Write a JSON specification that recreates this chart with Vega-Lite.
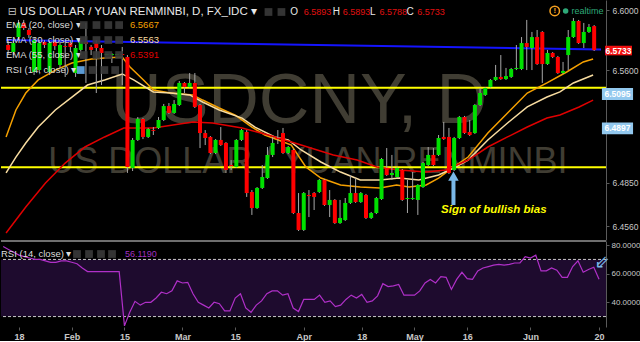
{
  "$schema": "https://vega.github.io/schema/vega-lite/v6.json",
  "background": "#000000",
  "padding": 0,
  "spacing": 0,
  "config": {
    "view": {"stroke": null},
    "axis": {"grid": false, "labelColor": "#c8c8c8", "labelFont": "Liberation Sans", "labelFontSize": 8.5, "domainColor": "#5a5a5a", "tickColor": "#5a5a5a", "tickSize": 3},
    "text": {"font": "Liberation Sans"}
  },
  "datasets": {
    "candles": [
      {"i":-3,"o":6.5767,"h":6.5800,"l":6.5700,"c":6.5734},
      {"i":-2,"o":6.5720,"h":6.5800,"l":6.5700,"c":6.5780},
      {"i":-1,"o":6.5820,"h":6.5934,"l":6.5800,"c":6.5914},
      {"i":0,"o":6.5914,"h":6.5934,"l":6.5867,"c":6.5880},
      {"i":1,"o":6.5867,"h":6.5880,"l":6.5814,"c":6.5834},
      {"i":2,"o":6.5587,"h":6.5814,"l":6.5567,"c":6.5800},
      {"i":3,"o":6.5600,"h":6.5800,"l":6.5587,"c":6.5780},
      {"i":4,"o":6.5787,"h":6.5800,"l":6.5747,"c":6.5767},
      {"i":5,"o":6.5587,"h":6.5794,"l":6.5567,"c":6.5780},
      {"i":6,"o":6.5787,"h":6.5800,"l":6.5734,"c":6.5760},
      {"i":7,"o":6.5634,"h":6.5787,"l":6.5614,"c":6.5767},
      {"i":8,"o":6.5760,"h":6.5787,"l":6.5554,"c":6.5754},
      {"i":9,"o":6.5780,"h":6.5800,"l":6.5720,"c":6.5754},
      {"i":10,"o":6.5580,"h":6.5767,"l":6.5554,"c":6.5747},
      {"i":11,"o":6.5734,"h":6.5800,"l":6.5700,"c":6.5787},
      {"i":12,"o":6.5787,"h":6.5914,"l":6.5514,"c":6.5774},
      {"i":13,"o":6.5754,"h":6.5767,"l":6.5700,"c":6.5734},
      {"i":14,"o":6.5780,"h":6.5800,"l":6.5447,"c":6.5747},
      {"i":15,"o":6.5747,"h":6.5767,"l":6.5500,"c":6.5714},
      {"i":16,"o":6.5700,"h":6.5707,"l":6.5700,"c":6.5707},
      {"i":17,"o":6.5700,"h":6.5714,"l":6.5647,"c":6.5707},
      {"i":18,"o":6.5700,"h":6.5707,"l":6.5700,"c":6.5707},
      {"i":19,"o":6.5707,"h":6.5754,"l":6.5500,"c":6.5700},
      {"i":20,"o":6.5687,"h":6.5700,"l":6.4914,"c":6.4954},
      {"i":21,"o":6.4947,"h":6.5147,"l":6.4927,"c":6.5134},
      {"i":22,"o":6.5134,"h":6.5287,"l":6.5127,"c":6.5274},
      {"i":23,"o":6.5274,"h":6.5280,"l":6.5140,"c":6.5154},
      {"i":24,"o":6.5154,"h":6.5214,"l":6.5147,"c":6.5207},
      {"i":25,"o":6.5200,"h":6.5220,"l":6.5167,"c":6.5194},
      {"i":26,"o":6.5214,"h":6.5287,"l":6.5207,"c":6.5267},
      {"i":27,"o":6.5267,"h":6.5374,"l":6.5260,"c":6.5360},
      {"i":28,"o":6.5360,"h":6.5380,"l":6.5307,"c":6.5314},
      {"i":29,"o":6.5314,"h":6.5400,"l":6.5307,"c":6.5374},
      {"i":30,"o":6.5367,"h":6.5527,"l":6.5360,"c":6.5514},
      {"i":31,"o":6.5514,"h":6.5520,"l":6.5447,"c":6.5487},
      {"i":32,"o":6.5487,"h":6.5580,"l":6.5480,"c":6.5514},
      {"i":33,"o":6.5514,"h":6.5580,"l":6.5347,"c":6.5354},
      {"i":34,"o":6.5367,"h":6.5374,"l":6.5080,"c":6.5180},
      {"i":35,"o":6.5180,"h":6.5200,"l":6.5100,"c":6.5147},
      {"i":36,"o":6.5154,"h":6.5160,"l":6.5040,"c":6.5047},
      {"i":37,"o":6.5047,"h":6.5140,"l":6.5040,"c":6.5134},
      {"i":38,"o":6.5134,"h":6.5220,"l":6.5094,"c":6.5100},
      {"i":39,"o":6.5114,"h":6.5120,"l":6.4914,"c":6.4934},
      {"i":40,"o":6.4967,"h":6.5000,"l":6.4934,"c":6.4960},
      {"i":41,"o":6.4954,"h":6.5140,"l":6.4947,"c":6.5134},
      {"i":42,"o":6.5134,"h":6.5207,"l":6.5127,"c":6.5200},
      {"i":43,"o":6.5187,"h":6.5200,"l":6.4754,"c":6.4780},
      {"i":44,"o":6.4787,"h":6.4800,"l":6.4634,"c":6.4680},
      {"i":45,"o":6.4680,"h":6.4820,"l":6.4674,"c":6.4814},
      {"i":46,"o":6.4814,"h":6.4967,"l":6.4807,"c":6.4887},
      {"i":47,"o":6.4880,"h":6.5087,"l":6.4874,"c":6.5034},
      {"i":48,"o":6.5034,"h":6.5154,"l":6.5020,"c":6.5114},
      {"i":49,"o":6.5147,"h":6.5200,"l":6.5107,"c":6.5140},
      {"i":50,"o":6.5180,"h":6.5214,"l":6.5040,"c":6.5047},
      {"i":51,"o":6.5047,"h":6.5094,"l":6.5040,"c":6.5087},
      {"i":52,"o":6.5067,"h":6.5074,"l":6.4640,"c":6.4647},
      {"i":53,"o":6.4647,"h":6.4780,"l":6.4527,"c":6.4534},
      {"i":54,"o":6.4534,"h":6.4787,"l":6.4527,"c":6.4780},
      {"i":55,"o":6.4767,"h":6.4800,"l":6.4620,"c":6.4760},
      {"i":56,"o":6.4780,"h":6.4787,"l":6.4667,"c":6.4754},
      {"i":57,"o":6.4787,"h":6.4874,"l":6.4780,"c":6.4867},
      {"i":58,"o":6.4867,"h":6.4874,"l":6.4694,"c":6.4700},
      {"i":59,"o":6.4700,"h":6.4800,"l":6.4620,"c":6.4734},
      {"i":60,"o":6.4734,"h":6.4740,"l":6.4574,"c":6.4580},
      {"i":61,"o":6.4580,"h":6.4734,"l":6.4574,"c":6.4614},
      {"i":62,"o":6.4600,"h":6.4747,"l":6.4594,"c":6.4714},
      {"i":63,"o":6.4714,"h":6.4900,"l":6.4707,"c":6.4780},
      {"i":64,"o":6.4780,"h":6.4880,"l":6.4714,"c":6.4720},
      {"i":65,"o":6.4720,"h":6.4787,"l":6.4714,"c":6.4780},
      {"i":66,"o":6.4767,"h":6.4774,"l":6.4607,"c":6.4614},
      {"i":67,"o":6.4614,"h":6.4654,"l":6.4607,"c":6.4647},
      {"i":68,"o":6.4647,"h":6.4754,"l":6.4640,"c":6.4747},
      {"i":69,"o":6.4740,"h":6.5014,"l":6.4734,"c":6.5007},
      {"i":70,"o":6.4947,"h":6.5080,"l":6.4894,"c":6.4900},
      {"i":71,"o":6.4900,"h":6.5034,"l":6.4867,"c":6.4914},
      {"i":72,"o":6.4887,"h":6.4954,"l":6.4880,"c":6.4947},
      {"i":73,"o":6.4934,"h":6.4940,"l":6.4727,"c":6.4734},
      {"i":74,"o":6.4740,"h":6.4867,"l":6.4647,"c":6.4747},
      {"i":75,"o":6.4740,"h":6.4920,"l":6.4734,"c":6.4747},
      {"i":76,"o":6.4734,"h":6.4840,"l":6.4634,"c":6.4834},
      {"i":77,"o":6.4820,"h":6.4987,"l":6.4814,"c":6.4980},
      {"i":78,"o":6.4967,"h":6.5087,"l":6.4960,"c":6.5034},
      {"i":79,"o":6.5034,"h":6.5080,"l":6.4960,"c":6.4967},
      {"i":80,"o":6.5034,"h":6.5167,"l":6.5027,"c":6.5147},
      {"i":81,"o":6.5154,"h":6.5254,"l":6.5134,"c":6.5140},
      {"i":82,"o":6.5154,"h":6.5214,"l":6.4907,"c":6.4914},
      {"i":83,"o":6.4934,"h":6.5154,"l":6.4927,"c":6.5147},
      {"i":84,"o":6.5147,"h":6.5294,"l":6.5140,"c":6.5287},
      {"i":85,"o":6.5287,"h":6.5294,"l":6.5174,"c":6.5180},
      {"i":86,"o":6.5187,"h":6.5267,"l":6.5160,"c":6.5167},
      {"i":87,"o":6.5180,"h":6.5374,"l":6.5174,"c":6.5367},
      {"i":88,"o":6.5367,"h":6.5480,"l":6.5360,"c":6.5447},
      {"i":89,"o":6.5434,"h":6.5487,"l":6.5427,"c":6.5480},
      {"i":90,"o":6.5487,"h":6.5540,"l":6.5480,"c":6.5534},
      {"i":91,"o":6.5534,"h":6.5634,"l":6.5527,"c":6.5554},
      {"i":92,"o":6.5554,"h":6.5700,"l":6.5534,"c":6.5540},
      {"i":93,"o":6.5540,"h":6.5614,"l":6.5534,"c":6.5560},
      {"i":94,"o":6.5554,"h":6.5614,"l":6.5547,"c":6.5607},
      {"i":95,"o":6.5607,"h":6.5767,"l":6.5600,"c":6.5614},
      {"i":96,"o":6.5607,"h":6.5820,"l":6.5600,"c":6.5780},
      {"i":97,"o":6.5780,"h":6.5934,"l":6.5600,"c":6.5754},
      {"i":98,"o":6.5747,"h":6.5854,"l":6.5600,"c":6.5820},
      {"i":99,"o":6.5820,"h":6.5867,"l":6.5634,"c":6.5640},
      {"i":100,"o":6.5854,"h":6.5860,"l":6.5514,"c":6.5640},
      {"i":101,"o":6.5640,"h":6.5734,"l":6.5634,"c":6.5714},
      {"i":102,"o":6.5714,"h":6.5720,"l":6.5680,"c":6.5687},
      {"i":103,"o":6.5687,"h":6.5694,"l":6.5574,"c":6.5580},
      {"i":104,"o":6.5580,"h":6.5654,"l":6.5574,"c":6.5594},
      {"i":105,"o":6.5700,"h":6.5867,"l":6.5600,"c":6.5820},
      {"i":106,"o":6.5820,"h":6.5947,"l":6.5814,"c":6.5927},
      {"i":107,"o":6.5927,"h":6.5934,"l":6.5774,"c":6.5780},
      {"i":108,"o":6.5780,"h":6.5914,"l":6.5747,"c":6.5854},
      {"i":109,"o":6.5854,"h":6.5907,"l":6.5847,"c":6.5887},
      {"i":110,"o":6.5893,"h":6.5900,"l":6.5727,"c":6.5733}
    ],
    "ema": [
      {"s":"EMA20","i":-3.4,"p":6.5154},{"s":"EMA20","i":-1.5,"p":6.5334},{"s":"EMA20","i":0.4,"p":6.5447},{"s":"EMA20","i":2.8,"p":6.5534},{"s":"EMA20","i":6.1,"p":6.5600},{"s":"EMA20","i":9.3,"p":6.5647},{"s":"EMA20","i":13.1,"p":6.5674},{"s":"EMA20","i":15.6,"p":6.5680},{"s":"EMA20","i":19,"p":6.5687},{"s":"EMA20","i":20.5,"p":6.5620},{"s":"EMA20","i":23.1,"p":6.5534},{"s":"EMA20","i":25,"p":6.5467},{"s":"EMA20","i":28.3,"p":6.5447},{"s":"EMA20","i":32.6,"p":6.5434},{"s":"EMA20","i":34.5,"p":6.5400},{"s":"EMA20","i":37.7,"p":6.5347},{"s":"EMA20","i":40.8,"p":6.5300},{"s":"EMA20","i":44,"p":6.5220},{"s":"EMA20","i":46.5,"p":6.5167},{"s":"EMA20","i":49.1,"p":6.5134},{"s":"EMA20","i":51.6,"p":6.5100},{"s":"EMA20","i":54.4,"p":6.4954},{"s":"EMA20","i":57.3,"p":6.4880},{"s":"EMA20","i":61.1,"p":6.4834},{"s":"EMA20","i":64.9,"p":6.4820},{"s":"EMA20","i":68.7,"p":6.4814},{"s":"EMA20","i":71.9,"p":6.4834},{"s":"EMA20","i":74.3,"p":6.4820},{"s":"EMA20","i":77.6,"p":6.4834},{"s":"EMA20","i":80,"p":6.4880},{"s":"EMA20","i":82.9,"p":6.4954},{"s":"EMA20","i":85.7,"p":6.5020},{"s":"EMA20","i":89.5,"p":6.5180},{"s":"EMA20","i":93.3,"p":6.5314},{"s":"EMA20","i":97.1,"p":6.5447},{"s":"EMA20","i":100.9,"p":6.5514},{"s":"EMA20","i":104.7,"p":6.5587},{"s":"EMA20","i":107.9,"p":6.5654},{"s":"EMA20","i":109.8,"p":6.5674},
      {"s":"EMA30","i":-3.4,"p":6.4914},{"s":"EMA30","i":-1.5,"p":6.5020},{"s":"EMA30","i":0.4,"p":6.5114},{"s":"EMA30","i":2.8,"p":6.5220},{"s":"EMA30","i":6.1,"p":6.5334},{"s":"EMA30","i":9.3,"p":6.5420},{"s":"EMA30","i":12.3,"p":6.5500},{"s":"EMA30","i":15.6,"p":6.5534},{"s":"EMA30","i":19,"p":6.5574},{"s":"EMA30","i":21.2,"p":6.5534},{"s":"EMA30","i":25,"p":6.5454},{"s":"EMA30","i":28.3,"p":6.5447},{"s":"EMA30","i":32,"p":6.5434},{"s":"EMA30","i":34.5,"p":6.5387},{"s":"EMA30","i":37.7,"p":6.5334},{"s":"EMA30","i":42.1,"p":6.5280},{"s":"EMA30","i":44.6,"p":6.5220},{"s":"EMA30","i":48.4,"p":6.5154},{"s":"EMA30","i":51,"p":6.5134},{"s":"EMA30","i":53.5,"p":6.5067},{"s":"EMA30","i":57.3,"p":6.4987},{"s":"EMA30","i":61.1,"p":6.4920},{"s":"EMA30","i":64.9,"p":6.4867},{"s":"EMA30","i":68.7,"p":6.4867},{"s":"EMA30","i":72.4,"p":6.4880},{"s":"EMA30","i":76.2,"p":6.4867},{"s":"EMA30","i":80,"p":6.4900},{"s":"EMA30","i":82.9,"p":6.4947},{"s":"EMA30","i":85.7,"p":6.5000},{"s":"EMA30","i":89.5,"p":6.5134},{"s":"EMA30","i":93.3,"p":6.5247},{"s":"EMA30","i":97.1,"p":6.5354},{"s":"EMA30","i":100.9,"p":6.5420},{"s":"EMA30","i":103.4,"p":6.5454},{"s":"EMA30","i":106,"p":6.5514},{"s":"EMA30","i":109.8,"p":6.5567},
      {"s":"EMA55","i":-3.4,"p":6.4514},{"s":"EMA55","i":0.4,"p":6.4687},{"s":"EMA55","i":4.2,"p":6.4847},{"s":"EMA55","i":8,"p":6.4980},{"s":"EMA55","i":11.8,"p":6.5087},{"s":"EMA55","i":15.6,"p":6.5154},{"s":"EMA55","i":19.3,"p":6.5214},{"s":"EMA55","i":25,"p":6.5214},{"s":"EMA55","i":32.6,"p":6.5254},{"s":"EMA55","i":36.4,"p":6.5247},{"s":"EMA55","i":42.1,"p":6.5214},{"s":"EMA55","i":47.2,"p":6.5167},{"s":"EMA55","i":53.5,"p":6.5100},{"s":"EMA55","i":59.7,"p":6.5034},{"s":"EMA55","i":64.3,"p":6.5000},{"s":"EMA55","i":68.1,"p":6.4954},{"s":"EMA55","i":72.4,"p":6.4934},{"s":"EMA55","i":77.6,"p":6.4920},{"s":"EMA55","i":81.4,"p":6.4934},{"s":"EMA55","i":85.7,"p":6.5000},{"s":"EMA55","i":89.5,"p":6.5087},{"s":"EMA55","i":93.3,"p":6.5154},{"s":"EMA55","i":97.1,"p":6.5220},{"s":"EMA55","i":100.9,"p":6.5280},{"s":"EMA55","i":103.4,"p":6.5300},{"s":"EMA55","i":107.1,"p":6.5354},{"s":"EMA55","i":109.8,"p":6.5400}
    ],
    "rsi": [
      {"i":-3,"r":79},{"i":-2,"r":77},{"i":-1,"r":75},{"i":0,"r":73},{"i":1,"r":72},{"i":2,"r":71},{"i":3,"r":70},{"i":4,"r":70},{"i":5,"r":69},{"i":6,"r":68},{"i":7,"r":68},{"i":8,"r":69},{"i":9,"r":69},{"i":10,"r":68},{"i":11,"r":67},{"i":12,"r":64},{"i":13,"r":61.5},{"i":14,"r":61.5},{"i":15,"r":61.5},{"i":16,"r":61.5},{"i":17,"r":61.5},{"i":18,"r":61.5},{"i":19,"r":61.5},
      {"i":20,"r":23.5},{"i":21,"r":33},{"i":22,"r":40.7},{"i":23,"r":38},{"i":24,"r":40},{"i":25,"r":40},{"i":26,"r":43},{"i":27,"r":47},{"i":28,"r":46},{"i":29,"r":48},{"i":30,"r":55},{"i":31,"r":53.5},{"i":32,"r":54},{"i":33,"r":46},{"i":34,"r":40},{"i":35,"r":38},{"i":36,"r":36},{"i":37,"r":40},{"i":38,"r":39},{"i":39,"r":34},{"i":40,"r":34},
      {"i":41,"r":43},{"i":42,"r":46},{"i":43,"r":36},{"i":44,"r":33},{"i":45,"r":38},{"i":46,"r":41},{"i":47,"r":46},{"i":48,"r":48},{"i":49,"r":48},{"i":50,"r":45},{"i":51,"r":46},{"i":52,"r":36},{"i":53,"r":33.5},{"i":54,"r":42},{"i":55,"r":42},{"i":56,"r":42},{"i":57,"r":45},{"i":58,"r":40},{"i":59,"r":41},{"i":60,"r":37},
      {"i":61,"r":38},{"i":62,"r":42},{"i":63,"r":45},{"i":64,"r":43},{"i":65,"r":45.5},{"i":66,"r":40},{"i":67,"r":41},{"i":68,"r":44.5},{"i":69,"r":53},{"i":70,"r":51},{"i":71,"r":51.5},{"i":72,"r":52.5},{"i":73,"r":45},{"i":74,"r":45},{"i":75,"r":45},{"i":76,"r":48},{"i":77,"r":53.5},{"i":78,"r":56},{"i":79,"r":53.5},{"i":80,"r":58},
      {"i":81,"r":57.5},{"i":82,"r":49},{"i":83,"r":56},{"i":84,"r":61},{"i":85,"r":56.5},{"i":86,"r":56},{"i":87,"r":62},{"i":88,"r":64},{"i":89,"r":65},{"i":90,"r":66},{"i":91,"r":66.5},{"i":92,"r":66},{"i":93,"r":66.5},{"i":94,"r":67.5},{"i":95,"r":67.5},{"i":96,"r":72},{"i":97,"r":71},{"i":98,"r":73},{"i":99,"r":62},{"i":100,"r":62},
      {"i":101,"r":64},{"i":102,"r":62.5},{"i":103,"r":57.5},{"i":104,"r":57.5},{"i":105,"r":65},{"i":106,"r":69},{"i":107,"r":61},{"i":108,"r":63},{"i":109,"r":64.5},{"i":110,"r":56.1}
    ]
  },
  "vconcat": [
    {
      "width": 605,
      "height": 240,
      "layer": [
        {
          "data": {"name": "candles"},
          "mark": {"type": "bar", "width": 4, "clip": true, "opacity": 0},
          "encoding": {
            "x": {"field": "i", "type": "quantitative", "scale": {"domain": [-3.414, 111.32], "nice": false, "zero": false}, "axis": null},
            "y": {"field": "o", "type": "quantitative", "scale": {"domain": [6.4467, 6.6067], "nice": false, "zero": false},
                  "title": null, "axis": {"orient": "right", "title": null, "values": [6.6, 6.58, 6.56, 6.5, 6.485, 6.47, 6.456], "format": ".4f", "labelPadding": 3, "labelFontSize": 8.5}},
            "y2": {"field": "c"}
          }
        },
        {
          "data": {"values": [{"i": 53.1, "p": 6.5247, "t": "USDCNY, D"}]},
          "mark": {"type": "text", "fontSize": 70, "color": "#403d33", "align": "center", "baseline": "alphabetic"},
          "encoding": {
            "x": {"field": "i", "type": "quantitative", "scale": {"domain": [-3.414, 111.32], "nice": false, "zero": false}, "axis": null},
            "y": {"field": "p", "type": "quantitative", "scale": {"domain": [6.4467, 6.6067], "nice": false, "zero": false}, "title": null},
            "text": {"field": "t"}
          }
        },
        {
          "data": {"values": [{"i": 54.8, "p": 6.4914, "t": "US DOLLAR / YUAN RENMINBI"}]},
          "mark": {"type": "text", "fontSize": 36, "color": "#403d33", "align": "center", "baseline": "alphabetic"},
          "encoding": {
            "x": {"field": "i", "type": "quantitative", "scale": {"domain": [-3.414, 111.32], "nice": false, "zero": false}, "axis": null},
            "y": {"field": "p", "type": "quantitative", "scale": {"domain": [6.4467, 6.6067], "nice": false, "zero": false}, "title": null},
            "text": {"field": "t"}
          }
        },
        {
          "data": {"values": [{"p": 6.5482}, {"p": 6.4952}]},
          "mark": {"type": "rule", "color": "#ffff00", "strokeWidth": 2},
          "encoding": {
            "y": {"field": "p", "type": "quantitative", "scale": {"domain": [6.4467, 6.6067], "nice": false, "zero": false}, "title": null}
          }
        },
        {
          "data": {"values": [{"i": -3.414, "p": 6.5800}, {"i": 111.32, "p": 6.5737}]},
          "mark": {"type": "line", "color": "#1414ff", "strokeWidth": 2, "clip": true},
          "encoding": {
            "x": {"field": "i", "type": "quantitative", "scale": {"domain": [-3.414, 111.32], "nice": false, "zero": false}, "axis": null},
            "y": {"field": "p", "type": "quantitative", "scale": {"domain": [6.4467, 6.6067], "nice": false, "zero": false}, "title": null}
          }
        },
        {
          "data": {"name": "ema"},
          "mark": {"type": "line", "strokeWidth": 1.5, "clip": true},
          "encoding": {
            "x": {"field": "i", "type": "quantitative", "scale": {"domain": [-3.414, 111.32], "nice": false, "zero": false}, "axis": null},
            "y": {"field": "p", "type": "quantitative", "scale": {"domain": [6.4467, 6.6067], "nice": false, "zero": false}, "title": null},
            "color": {"field": "s", "type": "nominal", "scale": {"domain": ["EMA20", "EMA30", "EMA55"], "range": ["#f5a000", "#f8dca0", "#e00000"]}, "legend": null}
          }
        },
        {
          "data": {"name": "candles"},
          "mark": {"type": "rule", "color": "#a8a8a8", "strokeWidth": 1, "clip": true},
          "encoding": {
            "x": {"field": "i", "type": "quantitative", "scale": {"domain": [-3.414, 111.32], "nice": false, "zero": false}, "axis": null},
            "y": {"field": "l", "type": "quantitative", "scale": {"domain": [6.4467, 6.6067], "nice": false, "zero": false}, "title": null},
            "y2": {"field": "h"}
          }
        },
        {
          "data": {"name": "candles"},
          "mark": {"type": "bar", "width": 4, "clip": true},
          "encoding": {
            "x": {"field": "i", "type": "quantitative", "scale": {"domain": [-3.414, 111.32], "nice": false, "zero": false}, "axis": null},
            "y": {"field": "o", "type": "quantitative", "scale": {"domain": [6.4467, 6.6067], "nice": false, "zero": false}, "title": null},
            "y2": {"field": "c"},
            "color": {"condition": {"test": "datum.c >= datum.o", "value": "#00e000"}, "value": "#ff0000"}
          }
        },
        {
          "data": {"values": [{"i": -0.76, "p": 6.5990, "t": "US DOLLAR / YUAN RENMINBI, D, FX_IDC ▾"}]},
          "mark": {"type": "text", "fontSize": 11.5, "color": "#e8e8e8", "align": "left", "baseline": "middle"},
          "encoding": {
            "x": {"field": "i", "type": "quantitative", "scale": {"domain": [-3.414, 111.32], "nice": false, "zero": false}, "axis": null},
            "y": {"field": "p", "type": "quantitative", "scale": {"domain": [6.4467, 6.6067], "nice": false, "zero": false}, "title": null},
            "text": {"field": "t"}
          }
        },
        {
          "data": {"values": [{"i": -3.1, "p": 6.5990, "t": "⊟"}]},
          "mark": {"type": "text", "fontSize": 11, "font": "DejaVu Sans", "color": "#bbbbbb", "align": "left", "baseline": "middle"},
          "encoding": {
            "x": {"field": "i", "type": "quantitative", "scale": {"domain": [-3.414, 111.32], "nice": false, "zero": false}, "axis": null},
            "y": {"field": "p", "type": "quantitative", "scale": {"domain": [6.4467, 6.6067], "nice": false, "zero": false}, "title": null},
            "text": {"field": "t"}
          }
        },
        {
          "data": {"values": [
            {"i": -3.414, "p": 6.5900, "t": "EMA (20, close) ▾"},
            {"i": -3.414, "p": 6.5800, "t": "EMA (30, close) ▾"},
            {"i": -3.414, "p": 6.5700, "t": "EMA (55, close) ▾"},
            {"i": -3.414, "p": 6.5600, "t": "RSI (14, close) ▾"}
          ]},
          "mark": {"type": "text", "fontSize": 9.5, "color": "#dcdcdc", "align": "left", "baseline": "middle"},
          "encoding": {
            "x": {"field": "i", "type": "quantitative", "scale": {"domain": [-3.414, 111.32], "nice": false, "zero": false}, "axis": null},
            "y": {"field": "p", "type": "quantitative", "scale": {"domain": [6.4467, 6.6067], "nice": false, "zero": false}, "title": null},
            "text": {"field": "t"}
          }
        },
        {
          "data": {"values": [
            {"i": 51.4, "p": 6.5987, "t": "O"},
            {"i": 59.6, "p": 6.5987, "t": "H"},
            {"i": 66.8, "p": 6.5987, "t": "L"},
            {"i": 73.8, "p": 6.5987, "t": "C"}
          ]},
          "mark": {"type": "text", "fontSize": 10, "color": "#e8e8e8", "align": "left", "baseline": "middle"},
          "encoding": {
            "x": {"field": "i", "type": "quantitative", "scale": {"domain": [-3.414, 111.32], "nice": false, "zero": false}, "axis": null},
            "y": {"field": "p", "type": "quantitative", "scale": {"domain": [6.4467, 6.6067], "nice": false, "zero": false}, "title": null},
            "text": {"field": "t"}
          }
        },
        {
          "data": {"values": [
            {"i": 54.0, "p": 6.5987, "t": "6.5893"},
            {"i": 61.5, "p": 6.5987, "t": "6.5893"},
            {"i": 68.6, "p": 6.5987, "t": "6.5788"},
            {"i": 75.9, "p": 6.5987, "t": "6.5733"}
          ]},
          "mark": {"type": "text", "fontSize": 9, "color": "#e01010", "align": "left", "baseline": "middle"},
          "encoding": {
            "x": {"field": "i", "type": "quantitative", "scale": {"domain": [-3.414, 111.32], "nice": false, "zero": false}, "axis": null},
            "y": {"field": "p", "type": "quantitative", "scale": {"domain": [6.4467, 6.6067], "nice": false, "zero": false}, "title": null},
            "text": {"field": "t"}
          }
        },
        {
          "data": {"values": [
            {"i": 20.48, "p": 6.5900, "s": "EMA20", "t": "6.5667"},
            {"i": 20.48, "p": 6.5800, "s": "EMA30", "t": "6.5563"},
            {"i": 20.48, "p": 6.5700, "s": "EMA55", "t": "6.5391"}
          ]},
          "mark": {"type": "text", "fontSize": 9.5, "align": "left", "baseline": "middle"},
          "encoding": {
            "x": {"field": "i", "type": "quantitative", "scale": {"domain": [-3.414, 111.32], "nice": false, "zero": false}, "axis": null},
            "y": {"field": "p", "type": "quantitative", "scale": {"domain": [6.4467, 6.6067], "nice": false, "zero": false}, "title": null},
            "color": {"field": "s", "type": "nominal", "scale": {"domain": ["EMA20", "EMA30", "EMA55"], "range": ["#f5a000", "#f8dca0", "#e00000"]}, "legend": null},
            "text": {"field": "t"}
          }
        },
        {
          "data": {"values": [
            {"i": 11.57, "p": 6.5900}, {"i": 14.03, "p": 6.5900}, {"i": 16.31, "p": 6.5900}, {"i": 18.40, "p": 6.5900},
            {"i": 11.57, "p": 6.5800}, {"i": 14.03, "p": 6.5800}, {"i": 16.31, "p": 6.5800}, {"i": 18.40, "p": 6.5800},
            {"i": 11.57, "p": 6.5700}, {"i": 14.03, "p": 6.5700}, {"i": 16.31, "p": 6.5700}, {"i": 18.40, "p": 6.5700},
            {"i": 13.28, "p": 6.5600}, {"i": 15.55, "p": 6.5600}, {"i": 17.64, "p": 6.5600},
            {"i": 47.2, "p": 6.5987}, {"i": 49.7, "p": 6.5987}
          ]},
          "mark": {"type": "point", "shape": "square", "size": 60, "filled": true, "color": "#3a3a3a", "opacity": 0.9},
          "encoding": {
            "x": {"field": "i", "type": "quantitative", "scale": {"domain": [-3.414, 111.32], "nice": false, "zero": false}, "axis": null},
            "y": {"field": "p", "type": "quantitative", "scale": {"domain": [6.4467, 6.6067], "nice": false, "zero": false}, "title": null}
          }
        },
        {
          "data": {"values": [{"i": 11.0, "p": 6.5600}]},
          "mark": {"type": "point", "shape": "square", "size": 60, "filled": true, "color": "#5b9bd5", "opacity": 1},
          "encoding": {
            "x": {"field": "i", "type": "quantitative", "scale": {"domain": [-3.414, 111.32], "nice": false, "zero": false}, "axis": null},
            "y": {"field": "p", "type": "quantitative", "scale": {"domain": [6.4467, 6.6067], "nice": false, "zero": false}, "title": null}
          }
        },
        {
          "data": {"values": [{"i": 112.1, "i2": 117.3, "p": 6.5762, "p2": 6.5698}]},
          "mark": {"type": "rect", "color": "#f01010"},
          "encoding": {
            "x": {"field": "i", "type": "quantitative", "scale": {"domain": [-3.414, 111.32], "nice": false, "zero": false}, "axis": null},
            "x2": {"field": "i2"},
            "y": {"field": "p", "type": "quantitative", "scale": {"domain": [6.4467, 6.6067], "nice": false, "zero": false}, "title": null},
            "y2": {"field": "p2"}
          }
        },
        {
          "data": {"values": [{"i": 111.5, "i2": 117.5, "p": 6.5480, "p2": 6.5400}, {"i": 111.5, "i2": 117.5, "p": 6.5250, "p2": 6.5172}]},
          "mark": {"type": "rect", "color": "#92c8ee"},
          "encoding": {
            "x": {"field": "i", "type": "quantitative", "scale": {"domain": [-3.414, 111.32], "nice": false, "zero": false}, "axis": null},
            "x2": {"field": "i2"},
            "y": {"field": "p", "type": "quantitative", "scale": {"domain": [6.4467, 6.6067], "nice": false, "zero": false}, "title": null},
            "y2": {"field": "p2"}
          }
        },
        {
          "data": {"values": [
            {"i": 114.7, "p": 6.5730, "t": "6.5733"},
            {"i": 114.5, "p": 6.5440, "t": "6.5095"},
            {"i": 114.5, "p": 6.5211, "t": "6.4897"}
          ]},
          "mark": {"type": "text", "fontSize": 8.5, "fontWeight": "bold", "color": "#ffffff", "align": "center", "baseline": "middle"},
          "encoding": {
            "x": {"field": "i", "type": "quantitative", "scale": {"domain": [-3.414, 111.32], "nice": false, "zero": false}, "axis": null},
            "y": {"field": "p", "type": "quantitative", "scale": {"domain": [6.4467, 6.6067], "nice": false, "zero": false}, "title": null},
            "text": {"field": "t"}
          }
        },
        {
          "data": {"values": [{"i": 82.87, "p": 6.4700, "p2": 6.4870}]},
          "mark": {"type": "rule", "color": "#7ab8e8", "strokeWidth": 4},
          "encoding": {
            "x": {"field": "i", "type": "quantitative", "scale": {"domain": [-3.414, 111.32], "nice": false, "zero": false}, "axis": null},
            "y": {"field": "p", "type": "quantitative", "scale": {"domain": [6.4467, 6.6067], "nice": false, "zero": false}, "title": null},
            "y2": {"field": "p2"}
          }
        },
        {
          "data": {"values": [{"i": 82.87, "p": 6.4893}]},
          "mark": {"type": "point", "shape": "triangle-up", "size": 110, "filled": true, "color": "#7ab8e8", "opacity": 1},
          "encoding": {
            "x": {"field": "i", "type": "quantitative", "scale": {"domain": [-3.414, 111.32], "nice": false, "zero": false}, "axis": null},
            "y": {"field": "p", "type": "quantitative", "scale": {"domain": [6.4467, 6.6067], "nice": false, "zero": false}, "title": null}
          }
        },
        {
          "data": {"values": [{"i": 90.65, "p": 6.4667, "t": "Sign of bullish bias"}]},
          "mark": {"type": "text", "fontSize": 11.5, "fontWeight": "bold", "fontStyle": "italic", "color": "#ffff00", "align": "center", "baseline": "middle"},
          "encoding": {
            "x": {"field": "i", "type": "quantitative", "scale": {"domain": [-3.414, 111.32], "nice": false, "zero": false}, "axis": null},
            "y": {"field": "p", "type": "quantitative", "scale": {"domain": [6.4467, 6.6067], "nice": false, "zero": false}, "title": null},
            "text": {"field": "t"}
          }
        },
        {
          "data": {"values": [{"i": 102.4, "p": 6.5994}]},
          "mark": {"type": "point", "shape": "circle", "size": 90, "filled": false, "color": "#f5a020", "strokeWidth": 1.5, "opacity": 1},
          "encoding": {
            "x": {"field": "i", "type": "quantitative", "scale": {"domain": [-3.414, 111.32], "nice": false, "zero": false}, "axis": null},
            "y": {"field": "p", "type": "quantitative", "scale": {"domain": [6.4467, 6.6067], "nice": false, "zero": false}, "title": null}
          }
        },
        {
          "data": {"values": [{"i": 104.5, "p": 6.5994}]},
          "mark": {"type": "point", "shape": "circle", "size": 30, "filled": true, "color": "#2ea878", "opacity": 1},
          "encoding": {
            "x": {"field": "i", "type": "quantitative", "scale": {"domain": [-3.414, 111.32], "nice": false, "zero": false}, "axis": null},
            "y": {"field": "p", "type": "quantitative", "scale": {"domain": [6.4467, 6.6067], "nice": false, "zero": false}, "title": null}
          }
        },
        {
          "data": {"values": [{"i": 105.63, "p": 6.5994, "t": "realtime"}]},
          "mark": {"type": "text", "fontSize": 9, "color": "#2ea878", "align": "left", "baseline": "middle"},
          "encoding": {
            "x": {"field": "i", "type": "quantitative", "scale": {"domain": [-3.414, 111.32], "nice": false, "zero": false}, "axis": null},
            "y": {"field": "p", "type": "quantitative", "scale": {"domain": [6.4467, 6.6067], "nice": false, "zero": false}, "title": null},
            "text": {"field": "t"}
          }
        },
        {
          "data": {"values": [{"i": 102.4, "p": 6.5994, "t": "!"}]},
          "mark": {"type": "text", "fontSize": 8, "fontWeight": "bold", "color": "#f5a020", "align": "center", "baseline": "middle"},
          "encoding": {
            "x": {"field": "i", "type": "quantitative", "scale": {"domain": [-3.414, 111.32], "nice": false, "zero": false}, "axis": null},
            "y": {"field": "p", "type": "quantitative", "scale": {"domain": [6.4467, 6.6067], "nice": false, "zero": false}, "title": null},
            "text": {"field": "t"}
          }
        }
      ]
    },
    {
      "width": 605,
      "height": 86,
      "layer": [
        {
          "data": {"name": "rsi"},
          "mark": {"type": "line", "color": "#b030c8", "strokeWidth": 1.2, "clip": true, "opacity": 0},
          "encoding": {
            "x": {"field": "i", "type": "quantitative", "scale": {"domain": [-3.414, 111.32], "nice": false, "zero": false}, "title": null,
                  "axis": {"title": null, "values": [0, 10, 20, 31, 41, 54, 65, 75, 85, 97, 110], "labelExpr": "['18','Feb','15','Mar','15','Apr','18','May','16','Jun','20'][indexof([0,10,20,31,41,54,65,75,85,97,110], datum.value)]", "domain": false, "labelFontWeight": "bold", "labelFontSize": 9, "labelFlush": false, "labelPadding": 2}},
            "y": {"field": "r", "type": "quantitative", "scale": {"domain": [22.7, 82.9], "nice": false, "zero": false}, "title": null,
                  "axis": {"orient": "right", "title": null, "values": [80, 60, 40], "format": ".4f", "labelPadding": 2, "labelFontSize": 8}}
          }
        },
        {
          "data": {"values": [{"i": -3.414, "i2": 111.32, "r": 70, "r2": 30}]},
          "mark": {"type": "rect", "color": "#1e0b2e"},
          "encoding": {
            "x": {"field": "i", "type": "quantitative", "scale": {"domain": [-3.414, 111.32], "nice": false, "zero": false}, "title": null},
            "x2": {"field": "i2"},
            "y": {"field": "r", "type": "quantitative", "scale": {"domain": [22.7, 82.9], "nice": false, "zero": false}, "title": null},
            "y2": {"field": "r2"}
          }
        },
        {
          "data": {"values": [{"r": 70}, {"r": 30}]},
          "mark": {"type": "rule", "color": "#c8c8c8", "strokeWidth": 1, "strokeDash": [3, 2]},
          "encoding": {
            "y": {"field": "r", "type": "quantitative", "scale": {"domain": [22.7, 82.9], "nice": false, "zero": false}, "title": null}
          }
        },
        {
          "data": {"values": [{"r": 82.9}]},
          "mark": {"type": "rule", "color": "#6e6e6e", "strokeWidth": 2},
          "encoding": {
            "y": {"field": "r", "type": "quantitative", "scale": {"domain": [22.7, 82.9], "nice": false, "zero": false}, "title": null}
          }
        },
        {
          "data": {"name": "rsi"},
          "mark": {"type": "line", "color": "#b030c8", "strokeWidth": 1.2, "clip": true},
          "encoding": {
            "x": {"field": "i", "type": "quantitative", "scale": {"domain": [-3.414, 111.32], "nice": false, "zero": false}, "title": null},
            "y": {"field": "r", "type": "quantitative", "scale": {"domain": [22.7, 82.9], "nice": false, "zero": false}, "title": null}
          }
        },
        {
          "data": {"values": [{"i": -3.414, "r": 73.8, "t": "RSI (14, close) ▾"}]},
          "mark": {"type": "text", "fontSize": 9.5, "color": "#dcdcdc", "align": "left", "baseline": "middle"},
          "encoding": {
            "x": {"field": "i", "type": "quantitative", "scale": {"domain": [-3.414, 111.32], "nice": false, "zero": false}, "title": null},
            "y": {"field": "r", "type": "quantitative", "scale": {"domain": [22.7, 82.9], "nice": false, "zero": false}, "title": null},
            "text": {"field": "t"}
          }
        },
        {
          "data": {"values": [{"i": 20.1, "r": 73.8, "t": "56.1190"}]},
          "mark": {"type": "text", "fontSize": 9, "color": "#a030c0", "align": "left", "baseline": "middle"},
          "encoding": {
            "x": {"field": "i", "type": "quantitative", "scale": {"domain": [-3.414, 111.32], "nice": false, "zero": false}, "title": null},
            "y": {"field": "r", "type": "quantitative", "scale": {"domain": [22.7, 82.9], "nice": false, "zero": false}, "title": null},
            "text": {"field": "t"}
          }
        },
        {
          "data": {"values": [{"i": 11.0, "r": 73.8}, {"i": 13.28, "r": 73.8}, {"i": 15.55, "r": 73.8}, {"i": 17.64, "r": 73.8}]},
          "mark": {"type": "point", "shape": "square", "size": 60, "filled": true, "color": "#3a3a3a", "opacity": 0.9},
          "encoding": {
            "x": {"field": "i", "type": "quantitative", "scale": {"domain": [-3.414, 111.32], "nice": false, "zero": false}, "title": null},
            "y": {"field": "r", "type": "quantitative", "scale": {"domain": [22.7, 82.9], "nice": false, "zero": false}, "title": null}
          }
        },
        {
          "data": {"values": [{"i": 110.56, "r": 67.5, "t": "⇙"}]},
          "mark": {"type": "text", "fontSize": 18, "font": "DejaVu Sans", "color": "#7ab8e8", "align": "center", "baseline": "middle"},
          "encoding": {
            "x": {"field": "i", "type": "quantitative", "scale": {"domain": [-3.414, 111.32], "nice": false, "zero": false}, "title": null},
            "y": {"field": "r", "type": "quantitative", "scale": {"domain": [22.7, 82.9], "nice": false, "zero": false}, "title": null},
            "text": {"field": "t"}
          }
        }
      ]
    }
  ]
}
